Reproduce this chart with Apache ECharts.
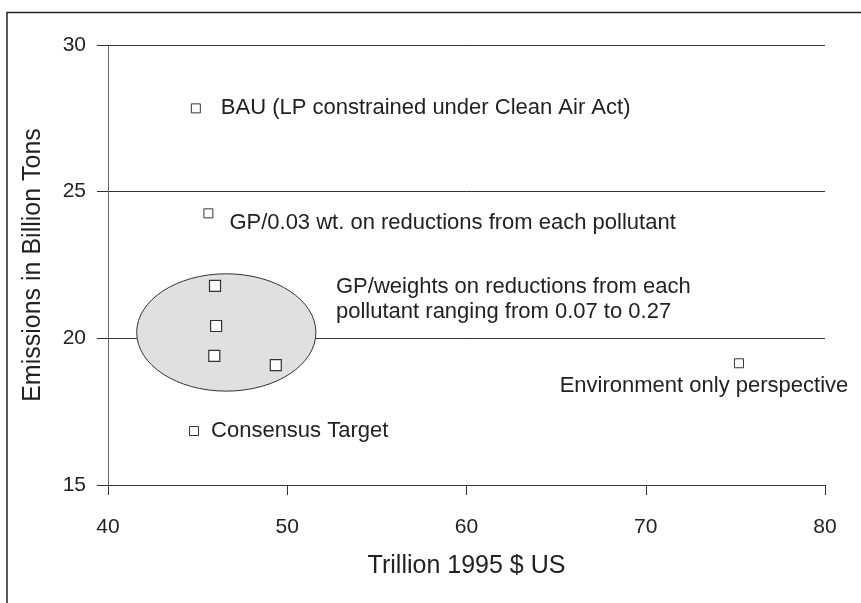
<!DOCTYPE html>
<html>
<head>
<meta charset="utf-8">
<script src="https://cdn.jsdelivr.net/npm/echarts@6/dist/echarts.min.js"></script>
<style>
  html, body { margin: 0; padding: 0; background: #fff; }
  #chart { width: 861px; height: 603px; }
</style>
</head>
<body>
<div id="chart"></div>
<script>
// labelled solutions
const pointNames = [
  'BAU (LP constrained under Clean Air Act)',
  'GP/0.03 wt. on reductions from each pollutant',
  'Consensus Target',
  'Environment only perspective'
]
const pointX = [44.9, 45.6, 44.8, 75.2]
const pointY = [27.84, 24.26, 16.84, 19.15]

// GP solutions with weights 0.07 - 0.27 (inside the ellipse)
const clusterName = 'GP/weights on reductions from each\npollutant ranging from 0.07 to 0.27'
const clusterX = [45.97, 46.03, 45.93, 49.36]
const clusterY = [21.79, 20.42, 19.40, 19.09]

// ellipse around the cluster: center x, center y, radius x, radius y
const ellipse = [46.6, 20.2, 5.0, 2.0]

const xTicks = [40, 50, 60, 70, 80]
const yTicks = [15, 20, 25, 30]

const textColor = '#222'
const font = 'Liberation Sans, Arial, sans-serif'

const chart = echarts.init(document.getElementById('chart'))

// where each label sits relative to its marker
const labelPlace = [
  { offset: [25, 0], align: 'left' },
  { offset: [21, 10], align: 'left' },
  { offset: [17, 0], align: 'left' },
  { offset: [-35, 22.5], align: 'center' }
]

const mainData = pointNames.map((name, i) => ({
  value: [pointX[i], pointY[i]],
  name,
  label: {
    show: true,
    position: 'inside',
    formatter: name,
    align: labelPlace[i].align,
    verticalAlign: 'middle',
    offset: labelPlace[i].offset
  }
}))

const clusterData = clusterX.map((x, i) => {
  const item = { value: [x, clusterY[i]] }
  if (i === 0) {
    item.label = {
      show: true,
      position: 'inside',
      formatter: clusterName,
      align: 'left',
      verticalAlign: 'middle',
      lineHeight: 25,
      offset: [121, 13.5]
    }
  }
  return item
})

const labelStyle = {
  color: textColor,
  fontSize: 22,
  fontFamily: font
}

const option = {
  animation: false,
  backgroundColor: '#fff',
  grid: {
    left: 108,
    right: 36,
    top: 45,
    bottom: 118
  },
  xAxis: {
    type: 'value',
    min: xTicks[0],
    max: xTicks[xTicks.length - 1],
    interval: 10,
    name: 'Trillion 1995 $ US',
    nameLocation: 'middle',
    nameGap: 69,
    nameTextStyle: { color: textColor, fontSize: 25, fontFamily: font },
    axisLine: { show: true, lineStyle: { color: '#333', width: 1 } },
    axisTick: { show: true, length: 10, lineStyle: { color: '#333' } },
    axisLabel: { color: textColor, fontSize: 21, fontFamily: font, margin: 32 },
    splitLine: { show: false }
  },
  yAxis: {
    type: 'value',
    min: yTicks[0],
    max: yTicks[yTicks.length - 1],
    interval: 5,
    name: 'Emissions in Billion Tons',
    nameLocation: 'middle',
    nameGap: 62,
    nameTextStyle: { color: textColor, fontSize: 25, fontFamily: font },
    axisLine: { show: true, lineStyle: { color: '#666', width: 1 } },
    axisTick: { show: true, length: 11, lineStyle: { color: '#333' } },
    axisLabel: { color: textColor, fontSize: 21, fontFamily: font, margin: 22 },
    splitLine: { show: true, lineStyle: { color: '#333', width: 1 } }
  },
  graphic: [
    {
      type: 'polyline',
      shape: { points: [[7, 603], [7, 12.5], [861, 12.5]] },
      style: { stroke: '#222', lineWidth: 1.5, fill: null },
      silent: true
    }
  ],
  series: [
    {
      type: 'custom',
      z: 1,
      silent: true,
      data: [ellipse],
      encode: { x: 0, y: 1 },
      renderItem: (params, api) => {
        const c = api.coord([api.value(0), api.value(1)])
        const s = api.size([api.value(2), api.value(3)])
        return {
          type: 'ellipse',
          shape: { cx: c[0], cy: c[1], rx: s[0], ry: s[1] },
          style: { fill: '#e0e0e0', stroke: '#333', lineWidth: 1 }
        }
      }
    },
    {
      type: 'scatter',
      z: 3,
      symbol: 'rect',
      symbolSize: 9,
      itemStyle: { color: '#fff', borderColor: '#333', borderWidth: 1, opacity: 1 },
      label: labelStyle,
      data: mainData
    },
    {
      type: 'scatter',
      z: 3,
      symbol: 'rect',
      symbolSize: 11,
      itemStyle: { color: '#fff', borderColor: '#333', borderWidth: 1.2, opacity: 1 },
      label: labelStyle,
      data: clusterData
    }
  ]
}

chart.setOption(option)
</script>
</body>
</html>
